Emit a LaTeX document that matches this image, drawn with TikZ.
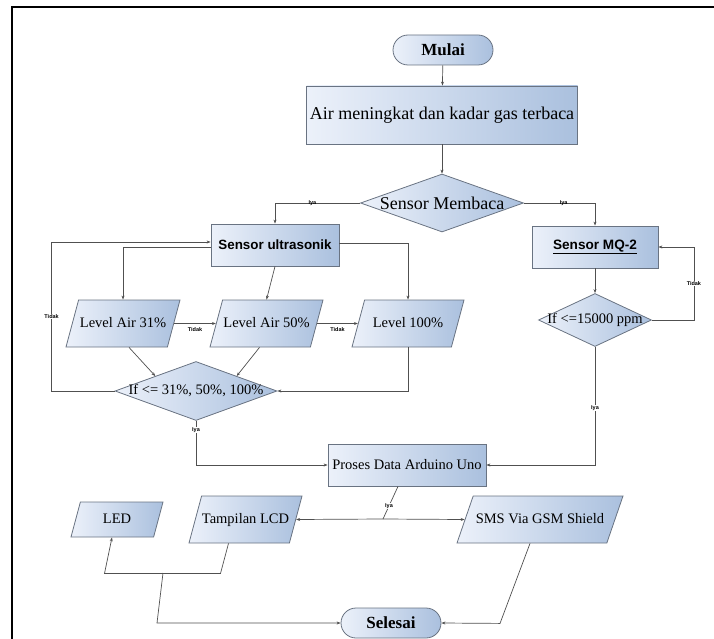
\documentclass[tikz,border=0pt]{standalone}
\usepackage{fontspec}
\setmainfont{Liberation Serif}
\newfontfamily\arialfont{Liberation Sans}
\usetikzlibrary{shapes.geometric,shapes.misc,arrows.meta}
\definecolor{edgegray}{RGB}{105,115,130}
\definecolor{fillA}{RGB}{236,241,250}
\definecolor{fillB}{RGB}{170,192,222}
\definecolor{linegray}{RGB}{80,80,80}

\begin{document}
\begin{tikzpicture}[x=1pt,y=-1pt,
		base/.style={draw=edgegray, line width=0.8pt, left color=fillA, right color=fillB, inner sep=0pt},
		term/.style={base, rounded rectangle, minimum width=100pt, minimum height=30pt, font=\bfseries\fontsize{17}{18}\selectfont},
		proc/.style={base, rectangle, font=\fontsize{14.5}{16}\selectfont},
		io/.style={base, trapezium, trapezium left angle=75, trapezium right angle=105, trapezium stretches body, text height=10pt, text depth=3pt, inner ysep=17pt, font=\fontsize{14.5}{16}\selectfont},
		dec/.style={base, diamond},
		dtext/.style={font=\fontsize{14.5}{16}\selectfont, inner sep=0pt},
		lbl/.style={font=\arialfont\bfseries\fontsize{5.5}{6}\selectfont, inner sep=0.5pt},
		arr/.style={draw=linegray, line width=0.7pt, -{Stealth[length=4pt,width=3pt]}},
		ln/.style={draw=linegray, line width=0.7pt}]
	\useasboundingbox (0,0) rectangle (714,639);
	\draw[line width=2pt] (12,639) -- (12,7) -- (714,7);

	% start and sensors
	\node[term] (mulai) at (443,50) {Mulai};
	\node[proc, minimum width=271pt, minimum height=58pt, font=\fontsize{18}{20}\selectfont] (air) at (442,115) {Air meningkat dan kadar gas terbaca};
	\node[dec, minimum width=163pt, minimum height=58pt, label={[dtext, font=\fontsize{18}{20}\selectfont]center:Sensor Membaca}] (memb) at (442,203) {};
	\node[proc, minimum width=128pt, minimum height=42pt, font=\arialfont\bfseries\fontsize{13.4}{15}\selectfont] (ultra) at (275,245) {Sensor ultrasonik};
	\node[proc, minimum width=126pt, minimum height=42pt, font=\arialfont\bfseries\fontsize{13.6}{15}\selectfont] (mq) at (595,247) {\underline{Sensor MQ-2}};

	% water level
	\node[io, minimum width=114pt] (lvA) at (123,323.5) {Level Air 31\%};
	\node[io, minimum width=113pt] (lvB) at (266.5,323.5) {Level Air 50\%};
	\node[io, minimum width=112pt] (lvC) at (408,323.5) {Level 100\%};
	\node[dec, minimum width=162pt, minimum height=59pt, label={[dtext]center:If <= 31\%, 50\%, 100\%}] (ifL) at (196,391) {};
	\node[dec, minimum width=113pt, minimum height=53pt, label={[dtext]center:If <=15000 ppm}] (ifR) at (595,320) {};

	% output
	\node[proc, minimum width=158pt, minimum height=42pt] (proses) at (407,465) {Proses Data Arduino Uno};
	\node[io, inner ysep=11pt, minimum width=92pt] (led) at (117,519.5) {LED};
	\node[io, minimum width=113pt] (lcd) at (245.5,519.5) {Tampilan LCD};
	\node[io, trapezium left angle=71, trapezium right angle=109, minimum width=166pt] (sms) at (540,519.5) {SMS Via GSM Shield};
	\node[term] (selesai) at (391,623) {Selesai};
	\coordinate (split) at (383,519);
	\coordinate (join) at (163,573);

	\draw[arr] (mulai) -- (air);
	\draw[arr] (air) -- (memb);
	\draw[arr] (memb.west) -| node[lbl, pos=0.28] {Iya} (ultra.north);
	\draw[arr] (memb.east) -| node[lbl, pos=0.28] {Iya} (mq.north);

	\draw[arr] ([yshift=-2pt]ultra.west) -| (lvA.north);
	\draw[arr] (ultra.south) -- (lvB.north);
	\draw[arr] ([yshift=2pt]ultra.east) -| (lvC.north);
	\draw[arr] (lvA.east) -- node[lbl, below=3pt] {Tidak} (lvB.west);
	\draw[arr] (lvB.east) -- node[lbl, below=3pt] {Tidak} (lvC.west);
	\draw[arr] ([xshift=6pt]lvA.south) -- (ifL.north west);
	\draw[arr] ([xshift=-7pt]lvB.south) -- (ifL.north east);
	\draw[arr] (lvC.south) |- (ifL.east);
	\draw[arr] (ifL.west) -- ++(-63,0) |- node[lbl, pos=0.25, fill=white] {Tidak} ([yshift=3pt]ultra.west);
	\draw[arr] (ifL.south) |- node[lbl, pos=0.1, fill=white] {Iya} (proses.west);

	\draw[arr] (mq) -- (ifR);
	\draw[arr] (ifR.east) -- ++(42,0) |- node[lbl, pos=0.25, fill=white] {Tidak} (mq.east);
	\draw[arr] (ifR.south) |- node[lbl, pos=0.26, fill=white] {Iya} (proses.east);

	\draw[ln] ([xshift=-9pt]proses.south) -- node[lbl, fill=white, pos=0.6] {Iya} (split);
	\draw[arr] (split) -- (lcd.east);
	\draw[arr] (split) -- (sms.west);
	\draw[arr] ([xshift=-17pt]lcd.south) -- ++(-8,30) -- ++(-116,0) -- ([xshift=-5pt]led.south);
	\draw[arr] (join) -- ++(-6,50) -- (selesai.west);
	\draw[arr] ([xshift=-10pt]sms.south) -- ++(-30,80) -- (selesai.east);
\end{tikzpicture}
\end{document}
